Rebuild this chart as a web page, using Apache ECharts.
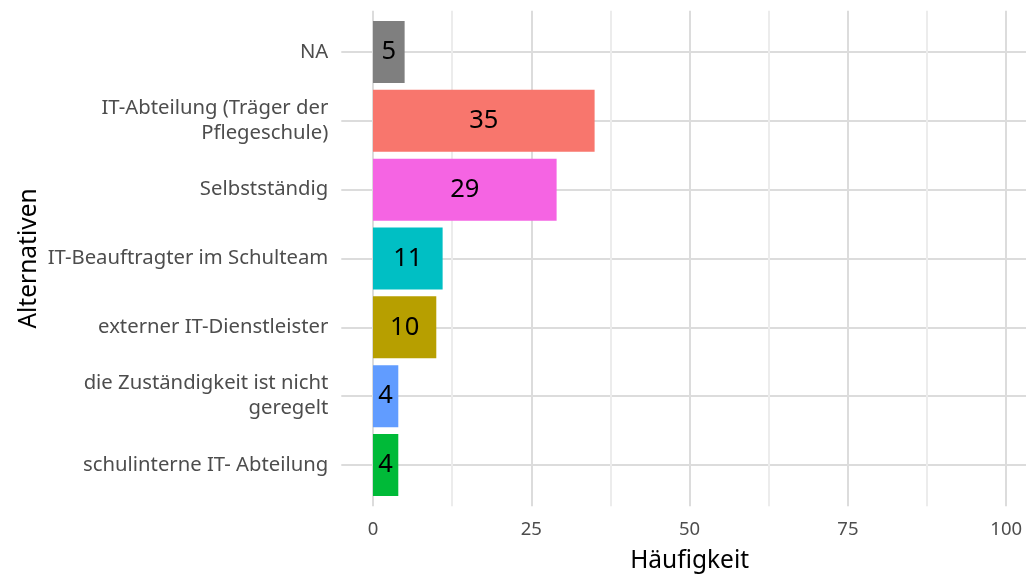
<!DOCTYPE html>
<html>
<head>
<meta charset="utf-8">
<script src="https://cdn.jsdelivr.net/npm/echarts@6/dist/echarts.min.js"></script>
<style>
  html, body { margin: 0; padding: 0; background: #fff; }
  #chart { width: 1026px; height: 574px; }
</style>
</head>
<body>
<div id="chart"></div>
<script>
// Kategorien von oben nach unten
const categories = [
  'NA',
  'IT-Abteilung (Träger der\nPflegeschule)',
  'Selbstständig',
  'IT-Beauftragter im Schulteam',
  'externer IT-Dienstleister',
  'die Zuständigkeit ist nicht\ngeregelt',
  'schulinterne IT- Abteilung'
];
const counts = [5, 35, 29, 11, 10, 4, 4];
const barColors = ['#7f7f7f', '#F8766D', '#F564E3', '#00BFC4', '#B79F00', '#619CFF', '#00BA38'];
const xTicks = [0, 25, 50, 75, 100];
const xMinorTicks = [12.5, 37.5, 62.5, 87.5];
const yTicks = [0, 1, 2, 3, 4, 5, 6];

const font = 'Noto Sans';
const chart = echarts.init(document.getElementById('chart'));

// panel: x -5..105, y -0.6..6.6 (ggplot-Expansion)
const panelLeft = 341.3, panelWidth = 696.6;
const panelTop = 10.7, panelHeight = 495.6;
const band = panelHeight / 7.2;

let option = {
  backgroundColor: '#ffffff',
  animation: false,
  grid: [{
    left: panelLeft, top: panelTop, width: panelWidth, height: panelHeight,
    outerBoundsMode: 'none', containLabel: false
  }, {
    left: panelLeft, top: panelTop + band * 0.1, width: panelWidth, height: band * 7,
    outerBoundsMode: 'none', containLabel: false
  }],
  xAxis: [{
    gridIndex: 0,
    type: 'value',
    min: -5,
    max: 105,
    axisLine: { show: false },
    axisTick: { show: false, customValues: xTicks },
    axisLabel: {
      customValues: xTicks,
      color: '#4d4d4d',
      fontFamily: font,
      fontSize: 18.5,
      margin: 14
    },
    splitLine: { show: true, lineStyle: { color: '#dcdcdc', width: 2 } },
    name: 'Häufigkeit',
    nameLocation: 'middle',
    nameGap: 42,
    nameTextStyle: { color: '#000', fontFamily: font, fontSize: 24.5 }
  }, {
    gridIndex: 0,
    type: 'value',
    min: -5,
    max: 105,
    axisLine: { show: false },
    axisTick: { show: false, customValues: xMinorTicks },
    axisLabel: { show: false },
    splitLine: { show: true, lineStyle: { color: '#ececec', width: 2 } }
  }, {
    gridIndex: 1,
    type: 'value',
    min: -5,
    max: 105,
    show: false
  }],
  yAxis: [{
    gridIndex: 0,
    type: 'value',
    inverse: true,
    min: -0.6,
    max: 6.6,
    axisLine: { show: false },
    axisTick: { show: false, customValues: yTicks },
    axisLabel: { show: false },
    splitLine: { show: true, lineStyle: { color: '#dcdcdc', width: 2 } },
    name: 'Alternativen',
    nameLocation: 'middle',
    nameGap: 300,
    nameRotate: 90,
    nameTextStyle: { color: '#000', fontFamily: font, fontSize: 24.5 }
  }, {
    gridIndex: 1,
    type: 'category',
    inverse: true,
    data: categories,
    axisLine: { show: false },
    axisTick: { show: false },
    splitLine: { show: false },
    axisLabel: {
      color: '#4d4d4d',
      fontFamily: font,
      fontSize: 20.3,
      lineHeight: 25,
      margin: 13,
      align: 'right'
    }
  }],
  series: [{
    type: 'bar',
    xAxisIndex: 2,
    yAxisIndex: 1,
    barWidth: '90%',
    data: counts.map((v, i) => ({ value: v, itemStyle: { color: barColors[i] } })),
    label: {
      show: true,
      position: 'inside',
      color: '#000',
      fontFamily: font,
      fontSize: 25.5
    }
  }]
};
chart.setOption(option);
</script>
</body>
</html>
